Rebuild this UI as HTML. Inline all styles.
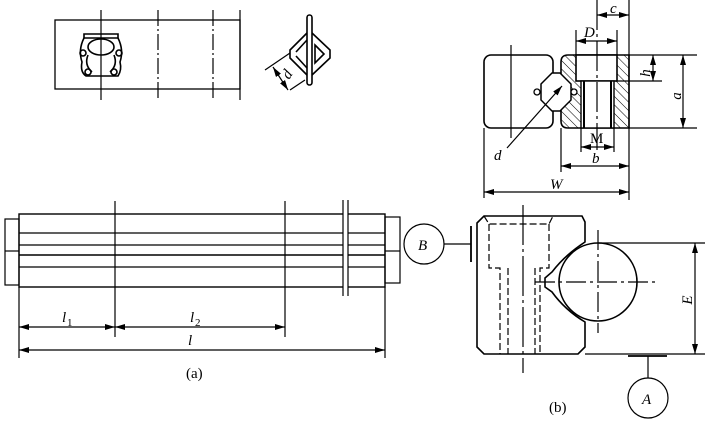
<!DOCTYPE html>
<html><head><meta charset="utf-8"><style>
html,body{margin:0;padding:0;background:#fff;}
svg{display:block;}
text{font-family:"Liberation Serif",serif;fill:#000;}
</style></head><body>
<svg width="705" height="425" viewBox="0 0 705 425" xmlns="http://www.w3.org/2000/svg">
<defs>
<marker id="ar" viewBox="0 0 10 6" refX="10" refY="3" markerWidth="10" markerHeight="6" orient="auto-start-reverse" markerUnits="userSpaceOnUse"><path d="M0,0 L10,3 L0,6 z" fill="#000"/></marker>
<pattern id="hatch" width="6" height="6" patternUnits="userSpaceOnUse" patternTransform="rotate(-45)"><line x1="0" y1="0" x2="0" y2="6" stroke="#000" stroke-width="1"/></pattern>
</defs>
<g stroke="#000" fill="none" stroke-width="1.2">
<!-- top-left view -->
<rect x="55" y="20" width="185" height="69" stroke-width="1.3"/>
<line x1="101" y1="10" x2="101" y2="100"/>
<line x1="158" y1="10" x2="158" y2="100" stroke-dasharray="16,3,2,3"/>
<line x1="213" y1="10" x2="213" y2="100" stroke-dasharray="16,3,2,3"/>
<line x1="240" y1="10" x2="240" y2="100"/>
<g stroke-width="1.6">
<path d="M84,34 L118,34 L118,38 L84,38 Z"/>
<path d="M84,38 Q78,50 82,62 Q80,72 86,76 L118,76 Q122,70 120,62 Q124,50 118,38"/>
<ellipse cx="101" cy="47" rx="13" ry="8"/>
<circle cx="83" cy="53" r="3"/><circle cx="119" cy="53" r="3"/>
<circle cx="88" cy="72" r="3"/><circle cx="114" cy="72" r="3"/>
<path d="M88,55 Q84,65 92,72 M114,55 Q118,65 110,72"/>
</g>
<!-- diamond thing -->
<g stroke-width="1.6">
<rect x="307" y="15" width="5" height="70" rx="2.5"/>
<path d="M307,33 L290,50 L290,58 L307,75 M312,33 L330,50 L330,58 L312,75"/>
<path d="M296,52 L307,40 M296,56 L307,68 M315,45 L324,54 L315,63 Z"/>
</g>
<line x1="265" y1="70" x2="290" y2="53"/>
<line x1="290" y1="90" x2="305" y2="80"/>
<line x1="273" y1="67" x2="288" y2="90" marker-start="url(#ar)" marker-end="url(#ar)"/>
<text x="289" y="80" font-size="15" font-style="italic" transform="rotate(-57 289 80)" stroke="none">d</text>

<!-- (a) long view -->
<rect x="19" y="214" width="366" height="73" stroke-width="1.4"/>
<line x1="19" y1="233" x2="385" y2="233"/>
<line x1="19" y1="245" x2="385" y2="245"/>
<line x1="19" y1="255" x2="385" y2="255" stroke-width="1.5"/>
<line x1="19" y1="267" x2="385" y2="267"/>
<rect x="5" y="219" width="14" height="66"/>
<line x1="5" y1="251" x2="19" y2="251"/>
<rect x="385" y="217" width="15" height="66"/>
<line x1="385" y1="251" x2="400" y2="251"/>
<rect x="343" y="198" width="5" height="98" fill="#fff" stroke="none"/>
<line x1="343" y1="200" x2="343" y2="296"/>
<line x1="348" y1="200" x2="348" y2="296"/>
<line x1="115" y1="201" x2="115" y2="337"/>
<line x1="285" y1="201" x2="285" y2="337"/>
<line x1="19" y1="287" x2="19" y2="358"/>
<line x1="385" y1="287" x2="385" y2="358"/>
<line x1="19" y1="327" x2="115" y2="327" marker-start="url(#ar)" marker-end="url(#ar)"/>
<line x1="115" y1="327" x2="285" y2="327" marker-start="url(#ar)" marker-end="url(#ar)"/>
<line x1="19" y1="350" x2="385" y2="350" marker-start="url(#ar)" marker-end="url(#ar)"/>

<!-- top-right section -->
<rect x="484" y="55" width="69" height="73" rx="7" stroke-width="1.6"/>
<line x1="511" y1="45" x2="511" y2="138"/>
<path d="M561,62 Q561,55 568,55 L629,55 L629,128 L568,128 Q561,128 561,121 Z" fill="url(#hatch)" stroke-width="1.6"/>
<rect x="576" y="55" width="41" height="26" fill="#fff" stroke-width="1.6"/>
<rect x="581" y="81" width="33" height="47" fill="#fff" stroke-width="1.4"/>
<line x1="584" y1="81" x2="584" y2="128" stroke-width="2"/>
<line x1="611" y1="81" x2="611" y2="128" stroke-width="2"/>
<path d="M541,84 L552,73 L560,73 L571,84 L571,100 L560,111 L552,111 L541,100 Z" fill="#fff" stroke-width="1.5"/>
<circle cx="537" cy="92" r="3" fill="#fff" stroke-width="1.3"/><circle cx="574" cy="92" r="3" fill="#fff" stroke-width="1.3"/>
<line x1="597" y1="0" x2="597" y2="150" stroke-dasharray="30,4,3,4"/>
<line x1="629" y1="0" x2="629" y2="200"/>
<line x1="576" y1="30" x2="576" y2="55"/>
<line x1="617" y1="30" x2="617" y2="55"/>
<line x1="597" y1="15" x2="629" y2="15" marker-start="url(#ar)" marker-end="url(#ar)"/>
<line x1="576" y1="41" x2="617" y2="41" marker-start="url(#ar)" marker-end="url(#ar)"/>
<line x1="629" y1="55" x2="697" y2="55"/>
<line x1="617" y1="81" x2="662" y2="81"/>
<line x1="629" y1="128" x2="697" y2="128"/>
<line x1="653" y1="55" x2="653" y2="81" marker-start="url(#ar)" marker-end="url(#ar)"/>
<line x1="683" y1="55" x2="683" y2="128" marker-start="url(#ar)" marker-end="url(#ar)"/>
<line x1="581" y1="128" x2="581" y2="152"/>
<line x1="614" y1="128" x2="614" y2="152"/>
<line x1="581" y1="147" x2="614" y2="147" marker-start="url(#ar)" marker-end="url(#ar)"/>
<line x1="561" y1="128" x2="561" y2="172"/>
<line x1="561" y1="166" x2="629" y2="166" marker-start="url(#ar)" marker-end="url(#ar)"/>
<line x1="484" y1="128" x2="484" y2="198"/>
<line x1="484" y1="192" x2="629" y2="192" marker-start="url(#ar)" marker-end="url(#ar)"/>
<line x1="507" y1="148" x2="562" y2="86" marker-end="url(#ar)"/>

<!-- (b) view -->
<path d="M484,216 L582,216 L585,222 L585,242 Q565,255 552,272 L545,278 L545,287 L552,292 Q565,310 585,322 L585,347 L578,354 L484,354 L477,347 L477,223 Z" stroke-width="1.6"/>
<circle cx="598" cy="282" r="39" stroke-width="1.6"/>
<line x1="535" y1="282" x2="655" y2="282" stroke-dasharray="20,4,3,4"/>
<line x1="598" y1="230" x2="598" y2="333" stroke-dasharray="20,4,3,4"/>
<line x1="523" y1="205" x2="523" y2="373" stroke-dasharray="40,4,3,4"/>
<g stroke-dasharray="7,3">
<path d="M484,216 L489,224 L549,224 L553,216"/>
<path d="M489,224 L489,268 L500,268 L500,354 M549,224 L549,268 L540,268 L540,354"/>
<line x1="508" y1="268" x2="508" y2="354"/>
<line x1="535" y1="268" x2="535" y2="354"/>
</g>
<line x1="598" y1="243" x2="705" y2="243"/>
<line x1="585" y1="354" x2="705" y2="354"/>
<line x1="695" y1="243" x2="695" y2="354" marker-start="url(#ar)" marker-end="url(#ar)"/>
<circle cx="424" cy="244" r="20"/>
<line x1="444" y1="244" x2="471" y2="244"/>
<line x1="471" y1="226" x2="471" y2="262" stroke-width="1.8"/>
<line x1="628" y1="356" x2="667" y2="356" stroke-width="1.8"/>
<line x1="648" y1="356" x2="648" y2="378"/>
<circle cx="648" cy="398" r="20"/>
</g>
<g stroke="none" font-size="15">
<text x="62" y="322" font-style="italic">l</text><text x="67" y="326" font-size="11">1</text>
<text x="190" y="322" font-style="italic">l</text><text x="195" y="326" font-size="11">2</text>
<text x="188" y="345" font-style="italic">l</text>
<text x="186" y="378">(a)</text>
<text x="549" y="412">(b)</text>
<text x="418" y="250" font-style="italic">B</text>
<text x="642" y="404" font-style="italic">A</text>
<text x="610" y="13" font-style="italic">c</text>
<text x="584" y="37" font-style="italic">D</text>
<text x="590" y="143">M</text>
<text x="592" y="163" font-style="italic">b</text>
<text x="550" y="189" font-style="italic">W</text>
<text x="494" y="160" font-style="italic">d</text>
<text x="650" y="73" font-style="italic" transform="rotate(-90 650 73)" text-anchor="middle">h</text>
<text x="681" y="96" font-style="italic" transform="rotate(-90 681 96)" text-anchor="middle">a</text>
<text x="692" y="300" font-style="italic" transform="rotate(-90 692 300)" text-anchor="middle">E</text>
</g>
</svg>
</body></html>
